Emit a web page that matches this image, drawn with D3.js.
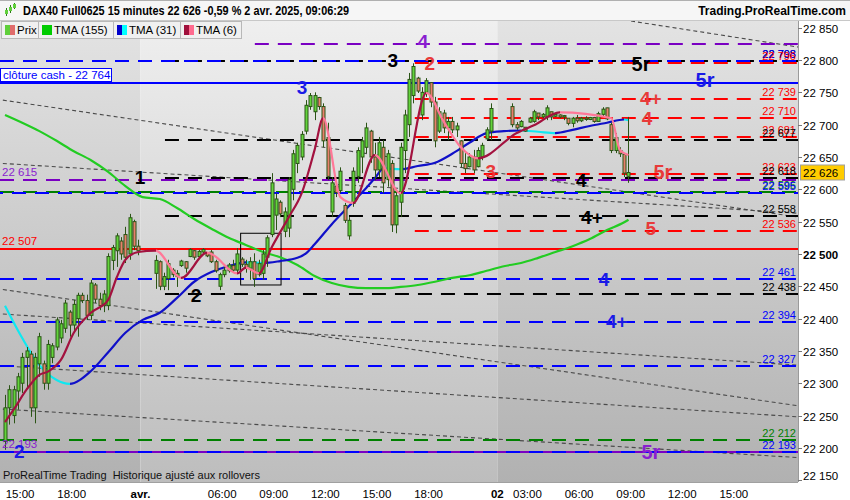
<!DOCTYPE html>
<html><head><meta charset="utf-8">
<script src="https://cdn.jsdelivr.net/npm/d3@7"></script>
<style>body{margin:0;background:#fff;} svg{display:block;font-family:"Liberation Sans",Arial,sans-serif;} text{white-space:pre;}</style>
</head><body><svg id="c" width="850" height="500"></svg>
<script>
// ---------------- DATA ----------------
const title = "DAX40 Full0625 15 minutes 22 626 -0,59 % 2 avr. 2025, 09:06:29";
const site = "Trading.ProRealTime.com";
const legendNames = ["Prix", "TMA (155)", "TMA (31)", "TMA (6)"];
const footer = "ProRealTime Trading  Historique ajusté aux rollovers";
const lastPrice = 22626;

// 15-minute bars, index 0 = 31 mars 14:00 ; null = no bar drawn
const barOpen = [22210,22262,22250,22288,22300,22340,22345,22262,22330,22330,22300,22340,22356,22370,22385,22410,22390,22400,22436,22428,22405,22452,22430,22420,22420,22490,22505,22520,22530,22500,22550,22512,
null,null,null,22470,22488,22450,22462,22475,22465,22482,22488,22496,22505,22496,22503,22502,22503,22488,22450,22468,22474,22482,22475,22492,22484,22478,22488,22468,22470,22495,22530,22560,22580,22535,22540,22600,22640,22650,22690,22728,22720,22742,22728,22680,22565,22605,22598,22575,22528,22578,22620,22650,22665,22690,22650,22630,22665,22615,22640,22545,22580,22660,22700,22745,22772,22715,22750,22765,22735,22690,22718,22695,22705,22692,22675,22640,22635,22650,22635,22650,22678,22690,null,
null,null,null,22728,22700,22697,22696,22704,22705,22718,22712,22712,22720,22713,22715,22712,22710,22702,22710,22706,22710,22708,22711,22705,22716,22726,22700,22660,22660,22654,22620];
const barHigh = [22282,22297,22296,22316,22347,22356,22350,22347,22378,22335,22367,22362,22402,22398,22429,22413,22429,22440,22440,22437,22460,22455,22440,22444,22501,22514,22532,22526,22542,22562,22553,22522,
null,null,null,22498,22490,22471,22491,22478,22475,22491,22489,22509,22506,22506,22509,22503,22506,22491,22471,22480,22486,22491,22509,22495,22491,22495,22501,22491,22506,22529,22625,22594,22583,22572,22619,22661,22672,22690,22738,22749,22750,22743,22733,22703,22619,22610,22634,22579,22557,22634,22665,22681,22703,22692,22672,22681,22676,22661,22645,22599,22672,22723,22780,22795,22774,22758,22772,22766,22743,22727,22723,22712,22712,22703,22676,22656,22656,22661,22665,22672,22696,22733,null,
null,null,null,22733,22704,22707,22696,22712,22723,22718,22718,22730,22720,22718,22716,22715,22710,22712,22715,22712,22713,22712,22712,22720,22727,22726,22703,22687,22665,22656,22712];
const barLow = [22197,22236,22238,22259,22285,22294,22248,22238,22310,22290,22290,22331,22351,22362,22378,22372,22378,22372,22424,22398,22398,22424,22413,22410,22413,22475,22480,22491,22486,22491,22506,22498,
null,null,null,22446,22444,22444,22444,22464,22449,22480,22471,22495,22491,22495,22501,22495,22486,22471,22444,22464,22471,22471,22471,22480,22471,22460,22449,22465,22460,22480,22526,22537,22557,22526,22526,22583,22625,22645,22685,22723,22707,22723,22665,22614,22557,22588,22594,22548,22522,22573,22610,22625,22656,22641,22614,22619,22594,22604,22534,22532,22557,22625,22681,22733,22749,22707,22743,22727,22665,22687,22687,22676,22687,22681,22634,22625,22634,22625,22634,22645,22676,22676,null,
null,null,null,22696,22692,22696,22689,22703,22703,22707,22710,22707,22707,22712,22710,22707,22699,22696,22703,22704,22706,22707,22703,22705,22712,22707,22656,22656,22650,22619,22610];
const barClose = [22262,22290,22290,22310,22340,22350,22262,22340,22372,22300,22360,22358,22398,22392,22424,22390,22422,22436,22428,22405,22455,22430,22420,22438,22496,22510,22528,22500,22495,22556,22512,22505,
null,null,null,22490,22450,22465,22485,22468,22470,22489,22478,22507,22495,22504,22507,22497,22488,22474,22468,22475,22483,22475,22500,22484,22478,22488,22462,22485,22500,22525,22610,22585,22562,22565,22615,22655,22668,22685,22730,22745,22745,22728,22675,22620,22610,22595,22628,22552,22552,22628,22660,22675,22695,22650,22630,22672,22610,22655,22545,22590,22665,22715,22770,22790,22752,22750,22768,22735,22675,22720,22695,22705,22692,22698,22640,22632,22650,22630,22660,22668,22692,22725,null,
null,null,null,22700,22695,22705,22690,22710,22720,22712,22716,22726,22712,22716,22712,22714,22702,22710,22706,22710,22708,22711,22705,22717,22724,22709,22660,22680,22655,22625,22626];

// Triangular moving averages (bar index -> value)
const tma155Idx = [0,4,8,12,16,20,24,28,32,36,40,44,48,52,56,60,64,68,72,76,80,84,88,92,96,100,104,108,112,116,120,124,128,132,136,140,144,145];
const tma155Val = [22715,22703,22690,22675,22659,22645,22627,22605,22588,22585,22571,22554,22539,22525,22514,22503,22495,22483,22466,22455,22449,22447,22447,22449,22452,22457,22463,22467,22474,22481,22486,22494,22503,22512,22523,22537,22549,22553];
const tma31Idx = [0,4,8,12,15,20,24,28,32,36,40,44,48,52,56,60,64,68,70,72,76,80,84,86,88,92,96,100,104,108,112,116,120,124,128,132,136,140,144,145];
const tma31Val = [22420,22370,22328,22305,22299,22319,22348,22378,22398,22409,22432,22457,22472,22481,22487,22486,22489,22494,22501,22515,22546,22574,22602,22617,22632,22631,22636,22641,22655,22672,22687,22690,22691,22689,22687,22692,22698,22703,22708,22707];
const tma6Idx = [0,2,5,8,10,13,16,20,24,26,28,31,35,41,47,48,54,56,59,62,66,69,72,74,78,81,86,92,98,102,106,110,119,123,129,141,143,145];
const tma6Val = [22240,22259,22290,22313,22318,22336,22378,22409,22429,22464,22491,22503,22505,22463,22502,22500,22470,22479,22470,22510,22557,22594,22661,22710,22588,22579,22653,22594,22749,22705,22665,22648,22687,22699,22719,22710,22661,22653];

// Horizontal levels
const levelPrice = [22825,22798,22798,22796,22764,22739,22710,22681,22677,22623,22618,22615,22596,22595,22558,22536,22507,22461,22438,22394,22327,22212,22193,22193];
const levelGroup = ["purple","black","blue","red","cash","red","red","red","black","red","black","purple","green","blue","black","red","ref","blue","black","blue","blue","green","purple","blue"];
const levelFrom  = [58.6,37.7,0,95.8,0,95.8,95.8,95.8,37.7,95.8,37.7,0,0,0,37.7,95.8,0,0,37.7,0,0,0,0,0];
const levelRight = [0,1,1,1,0,1,1,1,1,1,1,0,1,1,1,1,0,1,1,1,1,1,0,1];
const levelLeft  = [0,0,0,0,0,0,0,0,0,0,0,1,0,0,0,0,1,0,0,0,0,0,1,0];
const cashLabel = "clôture cash - ";

// Diagonal trend lines (bar index, price) -> (bar index, price)
const trendFrom = [[0,22445],[0,22407],[0,22327],[0,22260],[0,22738],[0,22640],[130,22877]];
const trendTo   = [[185,22265],[185,22328],[185,22248],[185,22185],[185,22557],[185,22563],[185,22820]];

// Wave annotations
const waveText  = ["1","2","2","3","3","4","2","3","4","4+","5r","5r","4+","4","5r","5","4","4+","5r"];
const waveGroup = ["black","black","blue","blue","black","purple","red","red","black","black","black","blue","red","red","red","red","blue","blue","purple"];
const waveIdx   = [31.9,44.9,3.8,69.6,90.7,97.7,99.3,113.5,134.5,137,148.4,163.3,150.7,149.8,153.5,150.7,139.8,142.8,150.7];
const wavePrice = [22619,22436,22194,22757,22800,22829,22795,22627,22614,22557,22794,22769,22741,22710,22627,22540,22460,22395,22194];

// Highlight box (bar index range, price range)
const boxIdx = [55.3, 64.7];
const boxPrice = [22532, 22452];

// Time axis
const xLabels = ["15:00","18:00","avr.","06:00","09:00","12:00","15:00","18:00","02","03:00","06:00","09:00","12:00","15:00"];
const xLabelIdx = [4,16,32,51,63,75,87,99,115,122,134,146,158,170];
const sessionStarts = [0,32,115];
const sessionEnds = [32,115,185];

// ---------------- DRAW ----------------
const svg = d3.select("#c");
const W = 850, H = 500;
const plot = {l:0, r:798, t:21, b:482};
const x = d3.scaleLinear().domain([0,185]).range([2.85, 2.85+4.3*185]);
const y = d3.scaleLinear().domain([22150,22850]).range([480.2, 27.7]);
const fmt = d3.formatLocale({thousands:"\u00a0", grouping:[3], decimal:",", currency:["",""]}).format(",d");
const sfmt = v => fmt(v).replace(/\u00a0/g," ");

const col = {black:"#000000", red:"#ff0000", blue:"#0000ff", purple:"#7a00c2", green:"#008000", cash:"#0000ff", ref:"#ff0000"};
const waveCol = {black:"#000000", red:"#e83a3a", blue:"#1a1ae6", purple:"#8a1ed0"};

const defs = svg.append("defs");
function vgrad(id, top, bot){
  const g = defs.append("linearGradient").attr("id",id).attr("x1",0).attr("x2",0).attr("y1",0).attr("y2",1);
  g.append("stop").attr("offset","0%").attr("stop-color",top);
  g.append("stop").attr("offset","100%").attr("stop-color",bot);
}
vgrad("bgDark","#e3e3e3","#b1b1b1");
vgrad("bgLight","#efefef","#bdbdbd");
defs.append("clipPath").attr("id","clip").append("rect").attr("x",plot.l).attr("y",plot.t).attr("width",plot.r-plot.l).attr("height",plot.b-plot.t);

svg.append("rect").attr("width",W).attr("height",H).attr("fill","#ffffff");
// session backgrounds
const bgG = svg.append("g").attr("clip-path","url(#clip)");
sessionStarts.forEach((s,k)=>{
  const x0 = k===0 ? plot.l : x(s);
  const x1 = k===sessionStarts.length-1 ? plot.r : x(sessionEnds[k]);
  bgG.append("rect").attr("x",x0).attr("y",plot.t).attr("width",x1-x0).attr("height",plot.b-plot.t)
    .attr("fill", k===1 ? "url(#bgLight)" : "url(#bgDark)");
});

const g = svg.append("g").attr("clip-path","url(#clip)");

// trend lines
trendFrom.forEach((a,k)=>{
  const b = trendTo[k];
  g.append("line").attr("x1",x(a[0])).attr("y1",y(a[1])).attr("x2",x(b[0])).attr("y2",y(b[1]))
   .attr("stroke","#4a4a4a").attr("stroke-width",1.1).attr("stroke-dasharray","4,3");
});

// levels
levelPrice.forEach((p,k)=>{
  const grp = levelGroup[k];
  const yy = Math.round(y(p));
  const ln = g.append("line").attr("x1", levelFrom[k]===0 ? plot.l : x(levelFrom[k])).attr("x2",plot.r)
    .attr("y1",yy).attr("y2",yy).attr("stroke",col[grp]).attr("stroke-width",2);
  if (grp!=="cash" && grp!=="ref") {
    ln.attr("stroke-dasharray","14,9");
    if ((grp==="blue" && (p===22595)) || (grp==="purple" && p===22193)) ln.attr("stroke-dashoffset",11);
  }
});
// level labels
levelPrice.forEach((p,k)=>{
  const grp = levelGroup[k];
  if (levelRight[k]) {
    svg.append("text").attr("x",796).attr("y",Math.round(y(p))-3).attr("text-anchor","end")
      .attr("font-size",11).attr("fill",col[grp]).text(sfmt(p));
  }
  if (levelLeft[k]) {
    svg.append("text").attr("x",2).attr("y",Math.round(y(p))-4)
      .attr("font-size",11.5).attr("fill", grp==="ref" ? "#ff0000" : "#8a1ed0").text(sfmt(p));
  }
});

// box
g.append("rect").attr("x",x(boxIdx[0])).attr("y",y(boxPrice[0])).attr("width",x(boxIdx[1])-x(boxIdx[0]))
  .attr("height",y(boxPrice[1])-y(boxPrice[0])).attr("fill","none").attr("stroke","#000").attr("stroke-width",1);

// TMA lines with direction colouring
function tmaLine(idx, val, up, down, id){
  const pts = idx.map((i,k)=>[x(i+0.5), y(val[k])]);
  const gr = defs.append("linearGradient").attr("id",id).attr("gradientUnits","userSpaceOnUse")
    .attr("x1",0).attr("x2",W).attr("y1",0).attr("y2",0);
  for (let k=0;k<idx.length-1;k++){
    const c = val[k+1] >= val[k] ? up : down;
    gr.append("stop").attr("offset",pts[k][0]/W).attr("stop-color",c);
    gr.append("stop").attr("offset",pts[k+1][0]/W).attr("stop-color",c);
  }
  g.append("path").attr("d", d3.line().curve(d3.curveMonotoneX)(pts))
    .attr("fill","none").attr("stroke",`url(#${id})`).attr("stroke-width",2.2).attr("stroke-linejoin","round");
}
tmaLine(tma155Idx, tma155Val, "#22cc22", "#22cc22", "gT155");
tmaLine(tma31Idx, tma31Val, "#1010c8", "#10e8f0", "gT31");

// candles
const cg = g.append("g");
barOpen.forEach((o,i)=>{
  if (o===null) return;
  const cx = Math.round(x(i+0.5)) + 0.5;
  const h = barHigh[i], l = barLow[i], c = barClose[i];
  cg.append("line").attr("x1",cx).attr("x2",cx).attr("y1",y(h)).attr("y2",y(l)).attr("stroke","#2b5416").attr("stroke-width",1);
  const top = y(Math.max(o,c)), bot = y(Math.min(o,c));
  cg.append("rect").attr("x",cx-1.5).attr("y",top).attr("width",3).attr("height",Math.max(1,bot-top))
    .attr("fill", c>=o ? "#63d43c" : "#e8806c").attr("stroke","#2b5416").attr("stroke-width",1);
});
tmaLine(tma6Idx, tma6Val, "#a3123f", "#ff7898", "gT6");

// wave labels
waveText.forEach((t,k)=>{
  svg.append("text").attr("x",x(waveIdx[k])).attr("y",y(wavePrice[k])).attr("text-anchor","middle")
    .attr("dominant-baseline","central").attr("font-weight","bold").attr("font-size", t==="5r"?20:19)
    .attr("fill",waveCol[waveGroup[k]]).text(t);
});

// cash label box
const cashY = Math.round(y(22764));
svg.append("rect").attr("x",0.5).attr("y",cashY-14.5).attr("width",111).attr("height",13).attr("fill","#fff").attr("stroke","#0000ff");
svg.append("text").attr("x",3).attr("y",cashY-4).attr("font-size",11.5).attr("fill","#0000ff").text(cashLabel + sfmt(22764));

// footer text
svg.append("text").attr("x",3).attr("y",479).attr("font-size",11).attr("fill","#111").attr("xml:space","preserve").text(footer);

// right axis
svg.append("rect").attr("x",plot.r).attr("y",plot.t).attr("width",W-plot.r).attr("height",plot.b-plot.t).attr("fill","#fff");
svg.append("line").attr("x1",plot.r+0.5).attr("x2",plot.r+0.5).attr("y1",plot.t).attr("y2",plot.b).attr("stroke","#9a9a9a");
const yt = d3.range(22150, 22851, 50);
yt.forEach(v=>{
  const yy = Math.round(y(v))+0.5;
  svg.append("line").attr("x1",plot.r).attr("x2",plot.r+4).attr("y1",yy).attr("y2",yy).attr("stroke","#777");
  svg.append("text").attr("x",803).attr("y",Math.min(yy,476)).attr("dominant-baseline","central")
    .attr("font-size",11.5).attr("font-weight", v===22500?"bold":"normal").attr("fill","#000").text(sfmt(v));
});
// current price marker
const lpY = y(lastPrice);
svg.append("rect").attr("x",800.5).attr("y",lpY-7.5).attr("width",44).attr("height",15).attr("fill","#ffcc00").attr("stroke","#a0a0a0");
svg.append("text").attr("x",803).attr("y",lpY).attr("dominant-baseline","central").attr("font-size",11.5).attr("fill","#000").text(sfmt(lastPrice));

// bottom axis
svg.append("rect").attr("x",0).attr("y",plot.b).attr("width",W).attr("height",H-plot.b).attr("fill","#fff");
svg.append("line").attr("x1",0).attr("x2",plot.r).attr("y1",plot.b+0.5).attr("y2",plot.b+0.5).attr("stroke","#a0a0a0");
xLabels.forEach((t,k)=>{
  const xx = x(xLabelIdx[k]);
  svg.append("text").attr("x",xx).attr("y",494).attr("text-anchor","middle").attr("dominant-baseline","central")
    .attr("font-size",11.5).attr("font-weight",(t==="avr."||t==="02")?"bold":"normal").attr("fill","#000").text(t);
});

// header
svg.append("rect").attr("x",0).attr("y",0).attr("width",W).attr("height",21).attr("fill","#f6f6f6");
svg.append("line").attr("x1",0).attr("x2",W).attr("y1",0.5).attr("y2",0.5).attr("stroke","#b0b0b0");
svg.append("line").attr("x1",0).attr("x2",W).attr("y1",20.5).attr("y2",20.5).attr("stroke","#c8c8c8");
// icon
[[6,8,16,10,14],[10,5,13,7,11],[14,3,9,4,8]].forEach(c=>{
  svg.append("line").attr("x1",c[0]+0.5).attr("x2",c[0]+0.5).attr("y1",c[1]).attr("y2",c[2]).attr("stroke","#2b7a16");
  svg.append("rect").attr("x",c[0]-1).attr("y",c[3]).attr("width",3).attr("height",c[4]-c[3]).attr("fill","#5fcf3a");
});
svg.append("text").attr("x",23).attr("y",15).attr("font-size",12).attr("font-weight","bold").attr("fill","#000")
  .attr("textLength",326).attr("lengthAdjust","spacingAndGlyphs").text(title);
svg.append("text").attr("x",846).attr("y",15).attr("text-anchor","end").attr("font-size",12).attr("font-weight","bold").attr("fill","#000").text(site);

// legend
const legX = [1,38,113,180], legW = [37,75,67,61];
const sw = [["#5fcf3a","#e06c6c"],["#00cc00","#00cc00"],["#0000cc","#00ffff"],["#a0103c","#ff6b8f"]];
legendNames.forEach((n,k)=>{
  svg.append("rect").attr("x",legX[k]+0.5).attr("y",21.5).attr("width",legW[k]).attr("height",17).attr("fill","#f0f0f0").attr("stroke","#b8b8b8");
  svg.append("rect").attr("x",legX[k]+4).attr("y",25).attr("width",5).attr("height",10).attr("fill",sw[k][0]);
  svg.append("rect").attr("x",legX[k]+9).attr("y",25).attr("width",5).attr("height",10).attr("fill",sw[k][1]);
  svg.append("text").attr("x",legX[k]+16).attr("y",34).attr("font-size",11.5).attr("fill","#000").text(n);
});
</script></body></html>
